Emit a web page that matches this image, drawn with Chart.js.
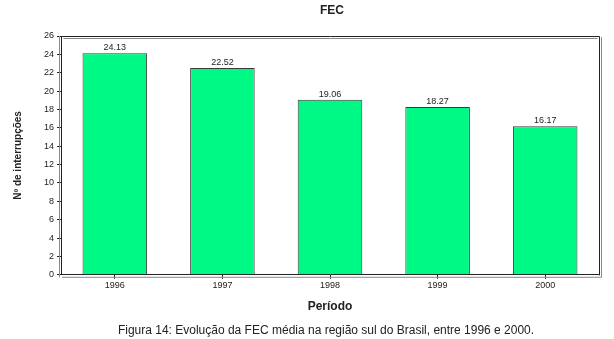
<!DOCTYPE html>
<html><head><meta charset="utf-8">
<script src="https://cdn.jsdelivr.net/npm/chart.js@4/dist/chart.umd.min.js"></script>
<style>html,body{margin:0;padding:0;background:#fff}#w{width:614px;height:339px}</style>
</head><body><div id="w"><canvas id="c" width="614" height="339"></canvas></div>
<script>
const categories = ["1996","1997","1998","1999","2000"];
const fecValues = [24.13, 22.52, 19.06, 18.27, 16.17];
const chartTitle = "FEC";
const yTitle = "Nº de interrupções";
const xTitle = "Período";
const caption = "Figura 14: Evolução da FEC média na região sul do Brasil, entre 1996 e 2000.";

const FONT = "'Liberation Sans', Arial, sans-serif";

const decor = {
  id: 'decor',
  afterDatasetsDraw(chart) {
    const ctx = chart.ctx, a = chart.chartArea;
    ctx.save();
    ctx.strokeStyle = '#222'; ctx.lineWidth = 1;
    ctx.beginPath();
    ctx.moveTo(a.left + 0.5, a.top + 0.5); ctx.lineTo(a.right + 0.5, a.top + 0.5);
    ctx.lineTo(a.right + 0.5, a.bottom + 0.5);
    ctx.stroke();
    ctx.strokeStyle = '#888';
    ctx.beginPath();
    ctx.moveTo(a.left + 2.5, a.top + 2.5); ctx.lineTo(a.right - 1.5, a.top + 2.5);
    ctx.moveTo(a.right + 2.5, a.top + 1); ctx.lineTo(a.right + 2.5, a.bottom + 2.5);
    ctx.lineTo(a.left + 1, a.bottom + 2.5);
    ctx.moveTo(a.left - 1.5, a.top); ctx.lineTo(a.left - 1.5, a.bottom + 2.5);
    ctx.stroke();
    ctx.fillStyle = '#222';
    ctx.font = '9px ' + FONT;
    ctx.textAlign = 'center'; ctx.textBaseline = 'bottom';
    const meta = chart.getDatasetMeta(0);
    meta.data.forEach((bar, i) => {
      ctx.fillText(fecValues[i].toFixed(2), bar.x, bar.y - 1);
    });
    const cx = (a.left + a.right) / 2;
    ctx.fillStyle = '#222';
    ctx.font = 'bold 12px ' + FONT;
    ctx.textBaseline = 'middle';
    ctx.fillText(chartTitle, cx + 2, 11);
    ctx.font = '12px ' + FONT;
    ctx.fillText(caption, cx - 4, 331);
    ctx.restore();
  }
};

new Chart(document.getElementById('c'), {
  type: 'bar',
  data: {
    labels: categories,
    datasets: [{
      data: fecValues,
      backgroundColor: '#00F884',
      borderColor: '#3a3a3a',
      borderWidth: 1,
      barPercentage: 0.6,
      categoryPercentage: 1.0
    }]
  },
  options: {
    responsive: false,
    animation: false,
    layout: { padding: { top: 36, right: 15, bottom: 25, left: 12 } },
    plugins: { legend: { display: false }, title: { display: false }, tooltip: { enabled: false } },
    scales: {
      x: {
        grid: { display: true, drawOnChartArea: false, offset: false, tickLength: 4, color: '#222' },
        border: { display: true, color: '#222', width: 1 },
        ticks: { color: '#222', font: { family: FONT, size: 9 }, padding: 1 },
        title: { display: true, text: xTitle, color: '#222', font: { family: FONT, size: 12, weight: 'bold' }, padding: { top: 8, bottom: 0 } }
      },
      y: {
        min: 0, max: 26,
        grid: { display: true, drawOnChartArea: false, tickLength: 4, color: '#222' },
        border: { display: true, color: '#222', width: 1 },
        ticks: { stepSize: 2, color: '#222', font: { family: FONT, size: 9 }, padding: 3 },
        title: { display: true, text: yTitle, color: '#222', font: { family: FONT, size: 10, weight: 'bold' }, padding: { top: 0, bottom: 17 } }
      }
    }
  },
  plugins: [decor]
});
</script>
</body></html>
